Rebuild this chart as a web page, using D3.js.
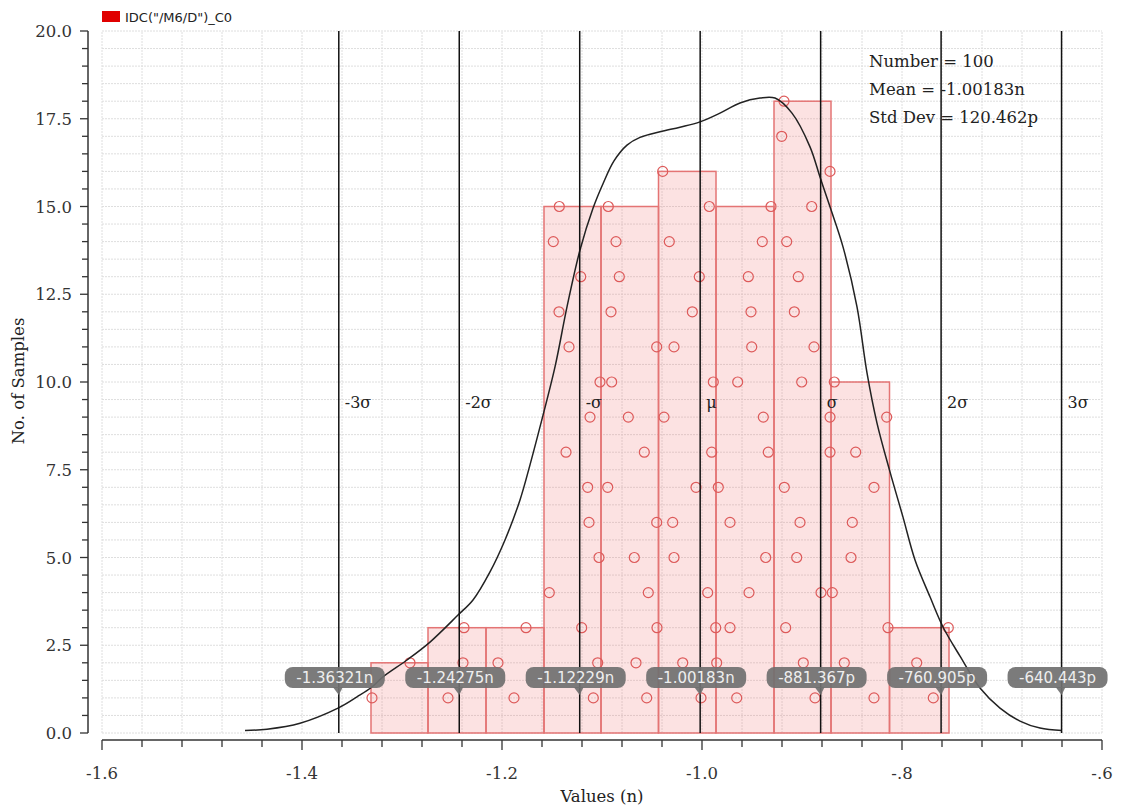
<!DOCTYPE html>
<html>
<head>
<meta charset="utf-8">
<script src="https://cdn.jsdelivr.net/npm/d3@7"></script>
<style>
  body { margin: 0; background: #fff; }
  svg { display: block; }
  .grid line { stroke: #dedede; stroke-width: 1; stroke-dasharray: 2,1; }
  .serif { font-family: "DejaVu Serif", serif; fill: #333; }
</style>
</head>
<body>
<svg id="svg" width="1121" height="810"></svg>
<script>
// histogram bin edges (n)
const binEdges = [-1.331, -1.274, -1.216, -1.158, -1.101, -1.0435, -0.986, -0.928, -0.871, -0.8125, -0.753];

// samples of each bin, in stacking order (row 1 at the bottom)
const bin1 = [-1.330, -1.292];
const bin2 = [-1.254, -1.239, -1.238];
const bin3 = [-1.188, -1.204, -1.176];
const bin4 = [-1.1087, -1.1043, -1.1203, -1.1527, -1.103, -1.113, -1.1143, -1.136, -1.112, -1.102, -1.133, -1.143, -1.1213, -1.1487, -1.1427];
const bin5 = [-1.0553, -1.066, -1.045, -1.0537, -1.0677, -1.0453, -1.0943, -1.0577, -1.0737, -1.0903, -1.0453, -1.091, -1.0827, -1.086, -1.0937];
const bin6 = [-1.001, -1.0193, -0.9863, -0.9943, -1.028, -1.0293, -1.006, -0.9903, -1.038, -0.9887, -1.028, -1.0097, -1.0027, -1.0327, -0.9927, -1.0393];
const bin7 = [-0.9653, -0.9853, -0.972, -0.953, -0.9363, -0.972, -0.9837, -0.9337, -0.9387, -0.9643, -0.9503, -0.951, -0.9537, -0.9397, -0.931];
const bin8 = [-0.887, -0.8987, -0.9163, -0.881, -0.9053, -0.902, -0.9177, -0.872, -0.872, -0.9003, -0.888, -0.9077, -0.9037, -0.9153, -0.8903, -0.872, -0.9203, -0.918];
const bin9 = [-0.828, -0.8577, -0.814, -0.8697, -0.851, -0.8497, -0.828, -0.8463, -0.8153, -0.8677];
const bin10 = [-0.7687, -0.7853, -0.7537];
const binSamples = [bin1, bin2, bin3, bin4, bin5, bin6, bin7, bin8, bin9, bin10];

// density curve
const curveX = [-1.457, -1.435, -1.402, -1.364, -1.345, -1.330, -1.319, -1.295, -1.272, -1.244, -1.229, -1.212, -1.197, -1.182, -1.172, -1.162, -1.147, -1.135, -1.122, -1.109, -1.099, -1.088, -1.075, -1.062, -1.042, -1.022, -1.002, -0.982, -0.962, -0.942, -0.927, -0.910, -0.892, -0.882, -0.872, -0.859, -0.845, -0.835, -0.825, -0.812, -0.799, -0.787, -0.772, -0.759, -0.742, -0.722, -0.702, -0.682, -0.662, -0.640];
const curveY = [0.07, 0.11, 0.28, 0.71, 1.03, 1.31, 1.60, 2.08, 2.59, 3.36, 3.79, 4.59, 5.50, 6.64, 7.64, 8.72, 10.43, 12.14, 13.76, 14.95, 15.65, 16.30, 16.75, 16.97, 17.13, 17.26, 17.41, 17.66, 17.95, 18.09, 18.09, 17.66, 16.70, 15.84, 14.99, 13.85, 12.14, 10.26, 8.83, 7.44, 6.15, 4.93, 3.88, 3.02, 2.19, 1.28, 0.71, 0.34, 0.14, 0.07];

// sigma markers
const sigmaValues = [-1.36321, -1.24275, -1.12229, -1.00183, -0.881367, -0.760905, -0.640443];
const sigmaNames = ["-3σ", "-2σ", "-σ", "μ", "σ", "2σ", "3σ"];
const sigmaLabels = ["-1.36321n", "-1.24275n", "-1.12229n", "-1.00183n", "-881.367p", "-760.905p", "-640.443p"];

const statsLines = ["Number = 100", "Mean = -1.00183n", "Std Dev = 120.462p"];
const legendText = 'IDC("/M6/D")_C0';

const xTicks = [-1.6, -1.4, -1.2, -1.0, -0.8, -0.6];
const xTickLabels = ["-1.6", "-1.4", "-1.2", "-1.0", "-.8", "-.6"];
const yTicks = [0, 2.5, 5, 7.5, 10, 12.5, 15, 17.5, 20];

const svg = d3.select('#svg');
const x = d3.scaleLinear().domain([-1.6, -0.6]).range([102, 1102]);
const y = d3.scaleLinear().domain([0, 20]).range([733, 31]);

// grid
const grid = svg.append('g').attr('class', 'grid');
const vGrid = d3.range(0, 26).map(i => -1.6 + i * 0.04);
const hGrid = d3.range(0, 41).map(i => i * 0.5);
grid.selectAll('line.v').data(vGrid).join('line')
  .attr('x1', d => x(d)).attr('x2', d => x(d)).attr('y1', y(0)).attr('y2', y(20));
grid.selectAll('line.h').data(hGrid).join('line')
  .attr('x1', x(-1.6)).attr('x2', x(-0.6)).attr('y1', d => y(d)).attr('y2', d => y(d));

// bars
const bins = binSamples.map((s, i) => ({ x0: binEdges[i], x1: binEdges[i + 1], n: s.length }));
svg.append('g').selectAll('rect').data(bins).join('rect')
  .attr('x', d => x(d.x0)).attr('width', d => x(d.x1) - x(d.x0))
  .attr('y', d => y(d.n)).attr('height', d => y(0) - y(d.n))
  .attr('fill', 'rgba(240,110,110,0.2)')
  .attr('stroke', '#e47474').attr('stroke-width', 1.5);

// sample circles
const pts = binSamples.flatMap(s => s.map((v, k) => ({ v, k: k + 1 })));
svg.append('g').selectAll('circle').data(pts).join('circle')
  .attr('cx', d => x(d.v)).attr('cy', d => y(d.k)).attr('r', 5)
  .attr('fill', 'none').attr('stroke', '#dd5a5a').attr('stroke-width', 1.2);

// density curve
const line = d3.line().x(d => x(d[0])).y(d => y(d[1])).curve(d3.curveCatmullRom);
svg.append('path')
  .attr('d', line(curveX.map((v, i) => [v, curveY[i]])))
  .attr('fill', 'none').attr('stroke', '#222').attr('stroke-width', 1.5);

// sigma lines + names
svg.append('g').selectAll('line').data(sigmaValues).join('line')
  .attr('x1', d => x(d)).attr('x2', d => x(d)).attr('y1', y(20)).attr('y2', y(0))
  .attr('stroke', '#111').attr('stroke-width', 1.5);
svg.append('g').selectAll('text').data(sigmaValues).join('text')
  .attr('class', 'serif').attr('x', d => x(d) + 6).attr('y', 408)
  .attr('font-size', 16).style('fill', '#222')
  .text((d, i) => sigmaNames[i]);

// callouts
const call = svg.append('g').selectAll('g').data(sigmaValues).join('g')
  .attr('transform', d => `translate(${x(d)},0)`);
call.append('rect')
  .attr('x', -54).attr('y', 667).attr('width', 100).attr('height', 21).attr('rx', 8)
  .attr('fill', '#707070').attr('opacity', 0.92);
call.append('path')
  .attr('d', 'M-6,687 L4,687 L0,695 Z').attr('fill', '#707070').attr('opacity', 0.92);
call.append('text')
  .attr('x', -4).attr('y', 683).attr('text-anchor', 'middle')
  .attr('font-family', '"DejaVu Sans", sans-serif').attr('font-size', 15)
  .attr('fill', '#eeeeee')
  .text((d, i) => sigmaLabels[i]);

// stats
svg.append('g').selectAll('text').data(statsLines).join('text')
  .attr('class', 'serif').attr('x', 869).attr('y', (d, i) => 67 + i * 28)
  .attr('font-size', 16.5).style('fill', '#222')
  .text(d => d);

// axes
const yAxis = svg.append('g');
yAxis.append('line').attr('x1', 88).attr('x2', 88).attr('y1', y(20)).attr('y2', y(0))
  .attr('stroke', '#333').attr('stroke-width', 1.5);
yAxis.selectAll('line.t').data(hGrid).join('line')
  .attr('x1', d => (d % 2.5 === 0) ? 80 : 82).attr('x2', 88)
  .attr('y1', d => y(d)).attr('y2', d => y(d))
  .attr('stroke', '#333').attr('stroke-width', 1.3);
yAxis.selectAll('text').data(yTicks).join('text')
  .attr('class', 'serif').attr('x', 72).attr('y', d => y(d) + 6)
  .attr('text-anchor', 'end').attr('font-size', 16.5)
  .text(d => d3.format('.1f')(d));

const xAxis = svg.append('g');
xAxis.append('line').attr('x1', x(-1.6)).attr('x2', x(-0.6)).attr('y1', 740).attr('y2', 740)
  .attr('stroke', '#333').attr('stroke-width', 1.5);
xAxis.selectAll('line.t').data(vGrid).join('line')
  .attr('x1', d => x(d)).attr('x2', d => x(d))
  .attr('y1', 740).attr('y2', (d, i) => (i % 5 === 0) ? 750 : 747)
  .attr('stroke', '#333').attr('stroke-width', 1.3);
xAxis.selectAll('text').data(xTicks).join('text')
  .attr('class', 'serif').attr('x', d => x(d)).attr('y', 779)
  .attr('text-anchor', 'middle').attr('font-size', 16.5)
  .text((d, i) => xTickLabels[i]);

svg.append('text').attr('class', 'serif')
  .attr('x', 602).attr('y', 802).attr('text-anchor', 'middle').attr('font-size', 16.5)
  .style('fill', '#222').text('Values (n)');
svg.append('text').attr('class', 'serif')
  .attr('transform', 'translate(24,381) rotate(-90)').attr('text-anchor', 'middle')
  .attr('font-size', 16.5).style('fill', '#222').text('No. of Samples');

// legend
svg.append('rect').attr('x', 102).attr('y', 11).attr('width', 18).attr('height', 11).attr('fill', '#e00000');
svg.append('text').attr('x', 125).attr('y', 22)
  .attr('font-family', '"DejaVu Sans", sans-serif').attr('font-size', 13).attr('fill', '#222')
  .text(legendText);
</script>
</body>
</html>
